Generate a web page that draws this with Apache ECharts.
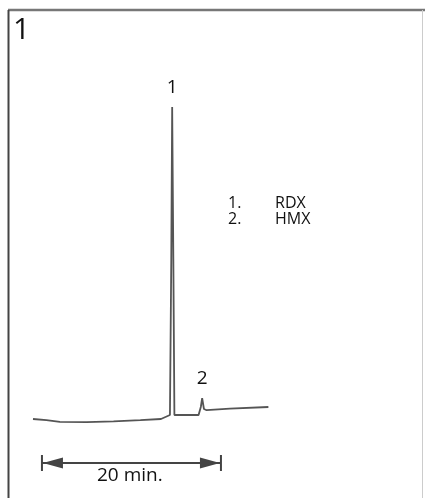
<!DOCTYPE html>
<html>
<head>
<meta charset="utf-8">
<script src="https://cdn.jsdelivr.net/npm/echarts@6/dist/echarts.min.js"></script>
<style>
  html, body { margin: 0; padding: 0; background: #fff; }
  #chart { width: 425px; height: 498px; }
</style>
</head>
<body>
<div id="chart"></div>
<script>
// chromatogram trace: time (min) and detector signal (arbitrary units)
var times  = [0, 1.5, 3, 6, 9, 12, 14.3, 14.8, 15.3, 15.45, 15.55, 15.68, 15.8, 16.2, 18.5, 18.75, 18.9, 19.1, 19.4, 22, 26.3];
var signal = [0, -0.3, -0.7, -0.8, -0.6, -0.3, 0, 0.5, 1.0, 40, 78, 40, 1.0, 1.0, 1.0, 3, 5.2, 2.5, 2.2, 2.6, 3.0];
// which points carry the peak numbers
var peakIndex  = [10, 16];
var peakLabels = ['1', '2'];
// compound legend
var legendNums  = ['1.', '2.'];
var legendNames = ['RDX', 'HMX'];
// 20 min scale bar, start and end in minutes
var scaleBar = [1, 21];
var scaleText = '20 min.';

var font = '"Open Sans", sans-serif';
var ink = '#111';

var chart = echarts.init(document.getElementById('chart'));

var traceData = times.map(function (t, i) { return [t, signal[i]]; });

var peakData = peakIndex.map(function (idx, k) {
  return { value: [times[idx], signal[idx]], name: peakLabels[k] };
});

var capPath = 'path://M0,0 L2,0 L2,16 L0,16 Z M2,8 L22,2.5 L22,13.5 Z';
var barY = -11;
var barData = [
  { value: [scaleBar[0], barY], symbol: capPath, symbolSize: [22, 16], symbolOffset: [10, 0] },
  { value: [scaleBar[1], barY], symbol: capPath, symbolSize: [22, 16], symbolOffset: [-10, 0], symbolRotate: 180 }
];

var legendGraphics = [];
legendNums.forEach(function (n, i) {
  legendGraphics.push({
    type: 'text', left: 228, top: 195 + i * 16,
    style: { text: n, fill: ink, font: '16px ' + font }
  });
  legendGraphics.push({
    type: 'text', left: 275, top: 195 + i * 16,
    style: { text: legendNames[i], fill: ink, font: '16px ' + font }
  });
});

var option = {
  animation: false,
  backgroundColor: '#fff',
  grid: { left: 33, top: 59, width: 358, height: 420 },
  xAxis: { type: 'value', min: 0, max: 40, show: false },
  yAxis: { type: 'value', min: -15, max: 90, show: false },
  graphic: [
    { type: 'line', shape: { x1: 8, y1: 10, x2: 425, y2: 10 }, style: { stroke: '#777', lineWidth: 2.5 } },
    { type: 'line', shape: { x1: 8.5, y1: 10, x2: 8.5, y2: 498 }, style: { stroke: '#444', lineWidth: 2 } },
    { type: 'line', shape: { x1: 422.5, y1: 10, x2: 422.5, y2: 498 }, style: { stroke: '#ccc', lineWidth: 1 } },
    { type: 'text', left: 13, top: 15, style: { text: '1', fill: ink, font: '30px ' + font } },
    { type: 'text', left: 97, top: 466, style: { text: scaleText, fill: ink, font: '19px ' + font } }
  ].concat(legendGraphics),
  series: [
    {
      type: 'line',
      data: traceData,
      showSymbol: false,
      symbol: 'none',
      lineStyle: { color: '#555', width: 1.8 }
    },
    {
      type: 'scatter',
      data: peakData,
      symbolSize: 0,
      itemStyle: { opacity: 1 },
      label: {
        show: true,
        position: 'top',
        distance: 10,
        formatter: '{b}',
        color: ink,
        opacity: 1,
        fontFamily: font,
        fontSize: 19
      }
    },
    {
      type: 'line',
      data: barData,
      showSymbol: true,
      lineStyle: { color: '#444', width: 2 },
      itemStyle: { color: '#444' }
    }
  ]
};

chart.setOption(option);
</script>
</body>
</html>
